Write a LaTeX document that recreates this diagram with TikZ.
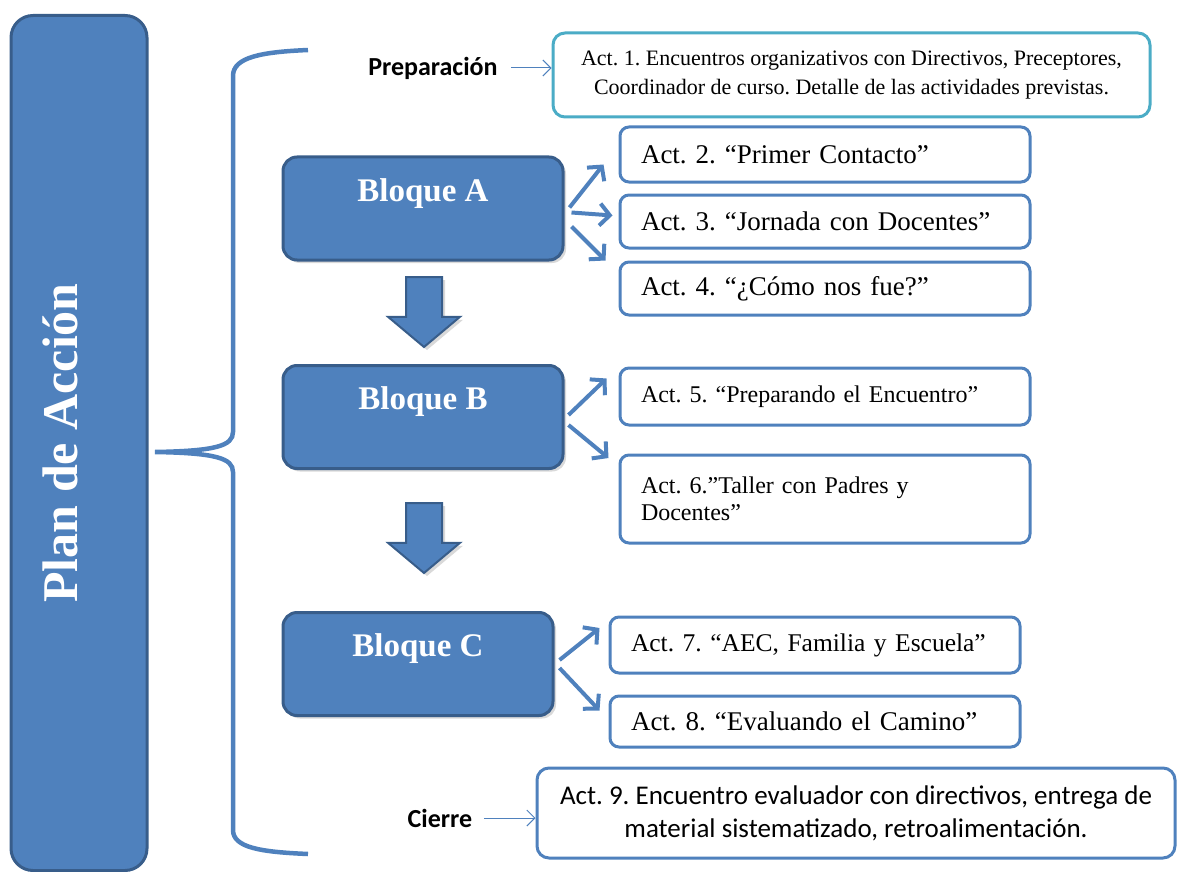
\documentclass[tikz,border=0pt]{standalone}
\usepackage{fontspec}
\setmainfont{Liberation Serif}
\newfontfamily\calibri{Carlito}
\usepackage{xcolor}
\usetikzlibrary{positioning, arrows.meta, shapes.arrows, shadows, calc}
\AtBeginDocument{\frenchspacing\hyphenpenalty=10000\relax}

\definecolor{planblue}{HTML}{4F81BD}
\definecolor{planedge}{HTML}{385D8A}
\definecolor{planteal}{HTML}{4BACC6}

\begin{document}
\begin{tikzpicture}[x=1pt, y=-1pt,
        softshadow/.style={drop shadow={opacity=0.3, shadow xshift=3pt, shadow yshift=-3pt}},
        planbox/.style={draw=planedge, fill=planblue, line width=3pt, rounded corners=22pt,
            minimum width=136pt, minimum height=855pt},
        plantxt/.style={anchor=center, rotate=90, yshift=19pt, text=white,
            font=\fontsize{50}{54}\selectfont\bfseries},
        bloque/.style={draw=planedge, fill=planblue, line width=3pt, rounded corners=14pt,
            minimum width=280pt, minimum height=103pt, softshadow},
        bloquetxt/.style={anchor=center, yshift=-38pt, text=white,
            font=\fontsize{33}{36}\selectfont\bfseries},
        act/.style={draw=planblue, fill=white, line width=3pt, rounded corners=9pt,
            minimum width=410pt, inner xsep=21pt, text width=368pt, align=left,
            font=\fontsize{27}{31}\selectfont},
        actsmall/.style={act, font=\fontsize{24}{27}\selectfont},
        prepbox/.style={draw=planteal, fill=white, line width=3pt, rounded corners=12pt,
            minimum width=597pt, minimum height=84pt, align=center,
            font=\fontsize{22}{29}\selectfont},
        cierrebox/.style={draw=planblue, fill=white, line width=3pt, rounded corners=12pt,
            minimum width=638pt, minimum height=90pt, align=center,
            font=\calibri\fontsize{27}{33}\selectfont},
        lbl/.style={font=\calibri\bfseries\fontsize{26}{28}\selectfont},
        downarrow/.style={single arrow, draw=planedge, fill=planblue, line width=2pt,
            shape border rotate=270, minimum width=70pt, minimum height=70pt,
            single arrow head extend=18pt, single arrow head indent=0pt,
            single arrow tip angle=100, inner sep=17pt, anchor=tail, softshadow},
        fan/.style={draw=planblue, line width=4pt, -{Straight Barb[length=10pt, width=22pt]}},
        pointer/.style={draw=planblue, line width=1pt, -{Straight Barb[length=8pt, width=16pt]}},
        brace/.style={draw=planblue, line width=4.5pt}
    ]
    \useasboundingbox (0,0) rectangle (1178,872);

    \node[planbox, label={[plantxt]center:Plan de Acción}] (plan) at (79,443) {};

    \draw[brace] (308,50) .. controls (262,52) and (233,57) .. (233,76)
        -- (233,432) .. controls (233,446) and (215,451) .. (155,452)
        .. controls (215,453) and (233,458) .. (233,472)
        -- (233,830) .. controls (233,848) and (262,852) .. (308,854);

    \node[lbl] (prep) at (433,68) {Preparación};
    \node[prepbox] (a1) at (851.5,75) {Act. 1. Encuentros organizativos con Directivos, Preceptores,\\
        Coordinador de curso. Detalle de las actividades previstas.};
    \draw[pointer, shorten <=10pt] (prep.east) -- (prep.east -| a1.west);

    \node[bloque, label={[bloquetxt]north:Bloque A}] (bA) at (423,208.5) {};
    \node[bloque, label={[bloquetxt]north:Bloque B}] (bB) at (423,417) {};
    \node[bloque, minimum width=270pt, label={[bloquetxt]north:Bloque C}] (bC) at (418,664) {};

    \node[downarrow] (dA) at (424,276) {};
    \node[downarrow] (dB) at (424,502) {};

    \node[act, minimum height=55pt] (a2) at (825,154.5) {Act. 2. “Primer Contacto”};
    \node[act, minimum height=53pt] (a3) at (825,221.5) {Act. 3. “Jornada con Docentes”};
    \node[act, minimum height=53pt] (a4) at (825,288.5) {Act. 4. “¿Cómo nos fue?”};
    \node[actsmall, minimum height=57pt] (a5) at (825,396.5) {Act. 5. “Preparando el Encuentro”};
    \node[actsmall, minimum height=88pt] (a6) at (825,499) {Act. 6.”Taller con Padres y\\Docentes”};
    \node[act, minimum height=56pt, font=\fontsize{25.5}{30}\selectfont] (a7) at (815,645)
        {\mbox{Act. 7. “AEC, Familia y Escuela”}};
    \node[act, minimum height=51pt] (a8) at (815,721.5) {Act. 8. “Evaluando el Camino”};

    \draw[fan] ($(bA.east)+(5,-1)$) -- ($(a2.west)+(-15,10)$);
    \draw[fan] ($(bA.east)+(7,4)$) -- ($(a3.west)+(-6,-6)$);
    \draw[fan] ($(bA.east)+(7,18)$) -- ($(a4.west)+(-13,-28)$);
    \draw[fan] ($(bB.east)+(4,-2)$) -- ($(a5.west)+(-12,-18)$);
    \draw[fan] ($(bB.east)+(4,8)$) -- ($(a6.west)+(-10,-41)$);
    \draw[fan] ($(bC.east)+(5,-4)$) -- ($(a7.west)+(-9,-17)$);
    \draw[fan] ($(bC.east)+(5,4)$) -- ($(a8.west)+(-9,-11)$);

    \node[lbl] (cierre) at (440,818) {Cierre};
    \node[cierrebox] (a9) at (856,813) {Act. 9. Encuentro evaluador con directivos, entrega de\\
        material sistematizado, retroalimentación.};
    \draw[pointer, shorten <=8pt] (cierre.east) -- (cierre.east -| a9.west);
\end{tikzpicture}
\end{document}
